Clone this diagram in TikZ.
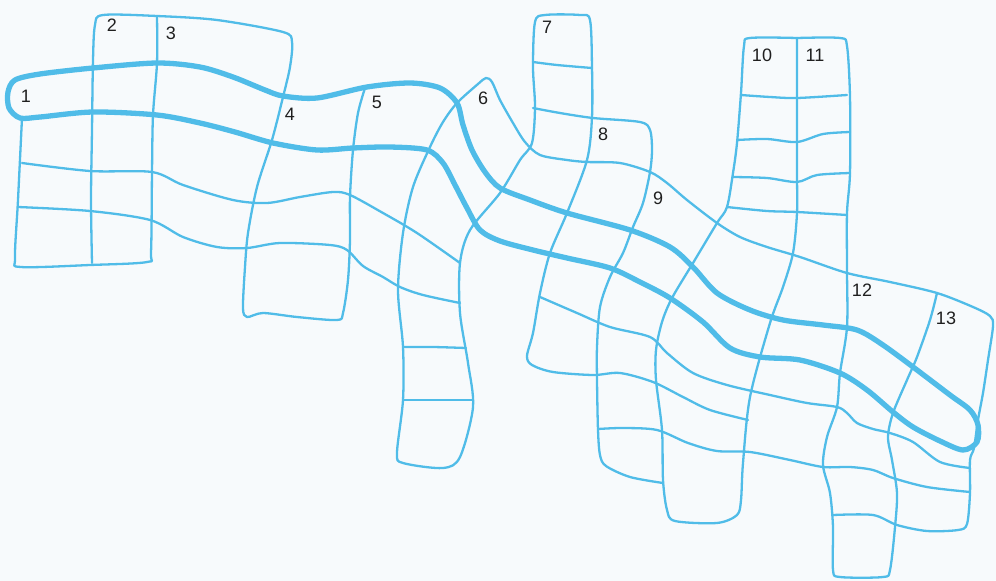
\documentclass[tikz,border=0pt]{standalone}
\usepackage{fontspec}
\setmainfont{Liberation Sans}
\definecolor{cwblue}{RGB}{80,188,232}
\definecolor{cwpaper}{RGB}{247,250,252}
\begin{document}
\begin{tikzpicture}[x=1pt,y=-1pt,line join=round,line cap=round,
	gridline/.style={draw=cwblue,line width=2.3pt},
	answerline/.style={draw=cwblue,line width=5.3pt},
	num/.style={font=\fontsize{18}{18}\selectfont,text=black!88,inner sep=0pt}]
	%% Nền
	\fill[cwpaper] (0,0) rectangle (996,581);
	\useasboundingbox (0,0) rectangle (996,581);
	%% Khối trái (cột 1, 2, 3, 4)
	\draw[gridline] plot[smooth,tension=0.5] coordinates {(22,118) (18,200) (15,258) (21,267) (90,265) (147,262) (151,252) (152,172) (153,115) (157,63) (157,16)};
	\draw[gridline] plot[smooth,tension=0.5] coordinates {(92,263) (91,200) (92,130) (93,60) (95,25) (103,15) (157,16) (217,20) (283,32) (292,42) (290,67) (283,97) (272,140) (257,187) (248,233) (245,267) (243,308) (247,317) (263,313) (297,317) (337,320) (343,313) (348,280) (350,240) (350,197) (353,150) (358,113) (365,88)};
	\draw[gridline] plot[smooth,tension=0.5] coordinates {(22,163) (90,171) (152,172) (183,185) (233,200) (267,203) (300,197) (333,192) (350,195) (383,213) (417,233) (460,263)};
	\draw[gridline] plot[smooth,tension=0.5] coordinates {(18,207) (90,211) (150,220) (183,237) (217,247) (247,248) (280,243) (330,245) (347,250) (363,266) (383,277) (400,287) (423,295) (460,303)};
	%% Cột 6 và viền ngoài bên phải
	\draw[gridline] plot[smooth,tension=0.5] coordinates {(833,515) (873,515) (897,525) (927,531) (958,530) (967,524) (970,493) (970,460) (974,448) (978,420) (983,393) (988,360) (993,326) (990,316) (973,307) (937,293) (890,282) (847,273) (800,257) (767,247) (740,237) (717,223) (687,200) (667,183) (650,172) (620,163) (587,162) (567,160) (540,155) (525,142) (513,123) (500,100) (492,82) (486,78) (478,84) (457,103) (443,122) (430,147) (413,187) (403,233) (398,290) (403,347) (403,400) (397,453) (403,463) (443,468) (460,457) (473,407) (468,363) (460,313) (460,263) (470,230) (500,193) (520,160) (532,143) (535,107) (533,67) (535,22) (545,15) (580,15) (590,20) (592,67) (592,117) (587,160) (567,213) (550,253) (540,293) (533,333) (527,356) (532,365) (553,372) (593,375) (620,373) (653,382) (683,397) (710,410) (748,420)};
	\draw[gridline] plot[smooth,tension=0.5] coordinates {(403,347) (433,347) (466,348)};
	\draw[gridline] plot[smooth,tension=0.5] coordinates {(403,400) (437,400) (473,400)};
	%% Cột 7, 8, 9
	\draw[gridline] plot[smooth,tension=0.5] coordinates {(533,62) (557,65) (592,68)};
	\draw[gridline] plot[smooth,tension=0.5] coordinates {(533,108) (560,113) (593,118) (640,122) (650,130) (652,150) (650,172) (643,203) (633,227) (623,253) (610,277) (600,307) (597,347) (597,380) (598,430) (600,455) (606,466) (630,477) (663,483)};
	%% Cột 10, 11
	\draw[gridline] plot[smooth,tension=0.5] coordinates {(797,38) (750,38) (744,46) (741,93) (737,143) (733,173) (727,207) (717,223) (693,263) (672,298) (662,322) (656,350) (656,380) (662,430) (663,480) (667,510) (675,521) (717,523) (737,515) (741,500) (743,463) (750,397) (770,323) (783,287) (793,253) (797,213) (797,173) (797,97) (797,38)};
	\draw[gridline] plot[smooth,tension=0.5] coordinates {(797,38) (840,38) (847,46) (850,97) (850,173) (847,213) (847,270) (847,327) (840,373) (837,407) (827,437) (823,465) (830,493) (833,527) (833,570) (840,577) (883,577) (890,570) (895,527) (897,493) (892,460) (888,437) (893,413) (907,380) (917,357) (930,320) (937,293)};
	\draw[gridline] plot[smooth,tension=0.5] coordinates {(741,95) (770,97) (797,98) (847,95)};
	\draw[gridline] plot[smooth,tension=0.5] coordinates {(737,140) (767,139) (797,142) (823,134) (850,132)};
	\draw[gridline] plot[smooth,tension=0.5] coordinates {(733,177) (767,178) (797,182) (817,175) (850,173)};
	\draw[gridline] plot[smooth,tension=0.5] coordinates {(727,207) (767,211) (797,212) (847,215)};
	%% Các hàng dưới
	\draw[gridline] plot[smooth,tension=0.5] coordinates {(540,297) (577,313) (610,327) (650,337) (667,353) (693,373) (727,385) (770,395) (807,403) (837,407) (847,413) (857,423) (873,429) (890,433) (913,442) (940,462) (970,468)};
	\draw[gridline] plot[smooth,tension=0.5] coordinates {(598,429) (623,428) (657,430) (688,443) (717,451) (750,452) (790,460) (823,467) (850,467) (873,470) (893,478) (927,487) (970,492)};
	%% Hàng ngang in đậm
	\draw[answerline] plot[smooth cycle,tension=0.5] coordinates {(15,80) (40,74) (93,68) (157,63) (200,67) (233,77) (265,90) (283,96) (317,98) (367,87) (410,83) (440,88) (457,103) (463,125) (472,150) (485,172) (500,188) (530,200) (567,213) (630,230) (670,247) (693,267) (717,293) (750,310) (783,320) (823,325) (857,330) (883,345) (917,370) (950,395) (970,410) (978,425) (977,442) (963,450) (940,441) (913,427) (893,412) (867,390) (840,373) (800,360) (760,357) (730,348) (703,322) (670,298) (640,282) (610,268) (567,258) (533,250) (500,241) (480,230) (467,208) (455,185) (443,163) (427,150) (390,147) (353,148) (317,150) (273,143) (235,132) (200,123) (157,115) (93,112) (40,117) (20,118) (9,108) (8,92)};
	%% Số thứ tự
	\node[num] (n1) at (26,96) {1};
	\node[num] (n2) at (112,25) {2};
	\node[num] (n3) at (171,33) {3};
	\node[num] (n4) at (290,114) {4};
	\node[num] (n5) at (377,102) {5};
	\node[num] (n6) at (483,98) {6};
	\node[num] (n7) at (547,27) {7};
	\node[num] (n8) at (603,134) {8};
	\node[num] (n9) at (658,198) {9};
	\node[num] (n10) at (762,55) {10};
	\node[num] (n11) at (815,55) {11};
	\node[num] (n12) at (862,290) {12};
	\node[num] (n13) at (946,318) {13};
\end{tikzpicture}
\end{document}
